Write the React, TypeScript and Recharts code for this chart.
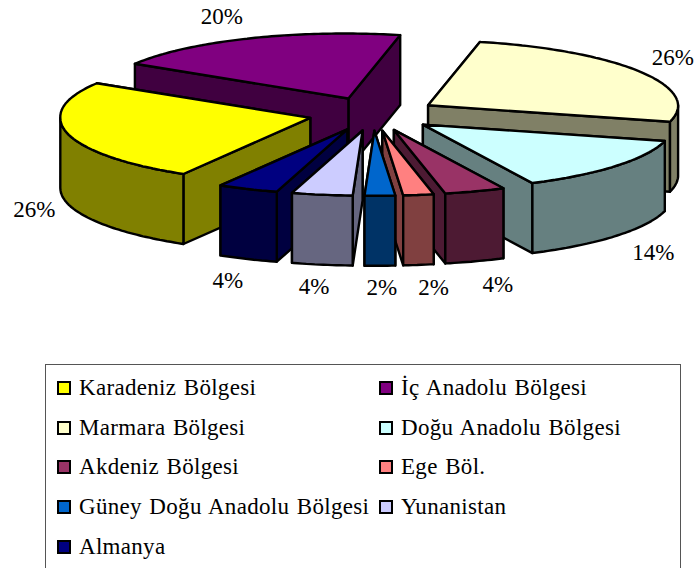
import React from 'react';
import { PieChart, Pie, Legend } from 'recharts';

const regions = [
  'Karadeniz Bölgesi',
  'İç Anadolu Bölgesi',
  'Marmara Bölgesi',
  'Doğu Anadolu Bölgesi',
  'Akdeniz Bölgesi',
  'Ege Böl.',
  'Güney Doğu Anadolu Bölgesi',
  'Yunanistan',
  'Almanya',
];
const shares = [26, 20, 26, 14, 4, 2, 2, 4, 4];
const colors = ['#ffff00', '#800080', '#ffffcc', '#ccffff', '#993366', '#ff8080', '#0066cc', '#ccccff', '#000080'];

// label placement relative to the middle of each slice's rim
const labelNudges = [
  [-33, 76],
  [-31, -22],
  [31, -14],
  [37, 87],
  [23, 93],
  [15, 93],
  [2, 92],
  [-8, 92],
  [-20, 91],
];

// back to front, the slices overlap each other in this order
const paintOrder = [1, 2, 0, 3, 8, 7, 4, 5, 6];

const data = regions.map((name, i) => ({ name, value: shares[i], fill: colors[i] }));

const TILT = 0.26;
const EXPLODE = 64.5;
const DEPTH = 70;
const LEAN = 0.06; // back of the pie leans left a little
const FONT = '"Liberation Serif", serif';

const rad = (a: number) => (a * Math.PI) / 180;

const project = (cx: number, cy: number, r: number, a: number) => ({
  x: cx + r * Math.cos(rad(a)),
  y: cy - r * TILT * Math.sin(rad(a)),
});

const darker = (hex: string) => {
  const n = parseInt(hex.slice(1), 16);
  const half = (v: number) => Math.round(v / 2).toString(16).padStart(2, '0');
  return `#${half((n >> 16) & 255)}${half((n >> 8) & 255)}${half(n & 255)}`;
};

const poly = (pts: { x: number; y: number }[]) =>
  pts.map((p, i) => `${i ? 'L' : 'M'}${p.x.toFixed(1)},${p.y.toFixed(1)}`).join(' ') + ' Z';

function Slice3D(props: any) {
  const { cx, cy, outerRadius, startAngle, endAngle, fill } = props;
  const mid = (startAngle + endAngle) / 2;
  const apex = project(cx, cy, EXPLODE, mid);
  const rim = (a: number) => {
    const p = project(0, 0, outerRadius, a);
    return { x: apex.x + p.x + LEAN * Math.min(0, p.y), y: apex.y + p.y };
  };
  const down = (p: { x: number; y: number }) => ({ x: p.x, y: p.y + DEPTH });

  const angles: number[] = [startAngle, endAngle];
  for (let a = Math.ceil(endAngle); a < startAngle; a += 1) angles.push(a);
  angles.sort((a, b) => b - a);

  const topPts = [apex, ...angles.map(rim)];
  const front = angles.filter((a) => Math.sin(rad(a)) <= 1e-6).map(rim);
  const wall = darker(fill);

  const edges = [rim(startAngle), rim(endAngle)].sort((a, b) => a.y - b.y);
  const common = { stroke: '#000', strokeWidth: 2.4, strokeLinejoin: 'round' as const };

  return (
    <g>
      {edges.map((e, i) => (
        <path key={i} d={poly([apex, e, down(e), down(apex)])} fill={wall} {...common} />
      ))}
      {front.length > 1 && (
        <path d={poly([...front, ...front.map(down).reverse()])} fill={wall} {...common} />
      )}
      <path d={poly(topPts)} fill={fill} {...common} />
    </g>
  );
}

function LegendBox() {
  return (
    <div
      style={{
        boxSizing: 'border-box',
        width: 636,
        height: 240,
        border: '1px solid #555',
        padding: '3px 0 0 11px',
        display: 'grid',
        gridTemplateColumns: '322px 1fr',
        gridAutoRows: '39.7px',
        fontFamily: FONT,
        fontSize: 23,
        letterSpacing: 0.3,
        wordSpacing: 1.5,
        color: '#000',
        textAlign: 'left',
      }}
    >
      {regions.map((name, i) => (
        <div key={name} style={{ display: 'flex', alignItems: 'center', whiteSpace: 'nowrap' }}>
          <span
            style={{
              boxSizing: 'border-box',
              width: 14,
              height: 14,
              marginRight: 8,
              background: colors[i],
              border: '2px solid #000',
              flexShrink: 0,
            }}
          />
          {name}
        </div>
      ))}
    </div>
  );
}

export default function App() {
  return (
    <div style={{ position: 'absolute', left: 0, top: 0, width: 697, height: 568, overflow: 'hidden', background: '#fff' }}>
      <PieChart width={697} height={568} margin={{ top: 0, right: 0, bottom: 0, left: 0 }}>
        {paintOrder.map((idx) => (
          <Pie
            key={idx}
            data={data}
            dataKey="value"
            nameKey="name"
            cx={373}
            cy={114}
            outerRadius={250}
            startAngle={239.5}
            endAngle={-120.5}
            stroke="none"
            isAnimationActive={false}
            labelLine={false}
            shape={(p: any) => (p.name === regions[idx] ? <Slice3D {...p} /> : <g />)}
            label={(p: any) => {
              if (p.name !== regions[idx]) return null;
              const pos = project(p.cx, p.cy, p.outerRadius + EXPLODE, p.midAngle);
              return (
                <text
                  x={pos.x + labelNudges[idx][0]}
                  y={pos.y + labelNudges[idx][1]}
                  textAnchor="middle"
                  dominantBaseline="central"
                  fontFamily={FONT}
                  fontSize={23}
                  fill="#000"
                >
                  {`${p.value}%`}
                </text>
              );
            }}
          />
        ))}
        <Legend
          content={() => <LegendBox />}
          wrapperStyle={{ position: 'absolute', left: 45, top: 364, width: 636, height: 240, bottom: 'auto' }}
        />
      </PieChart>
    </div>
  );
}
